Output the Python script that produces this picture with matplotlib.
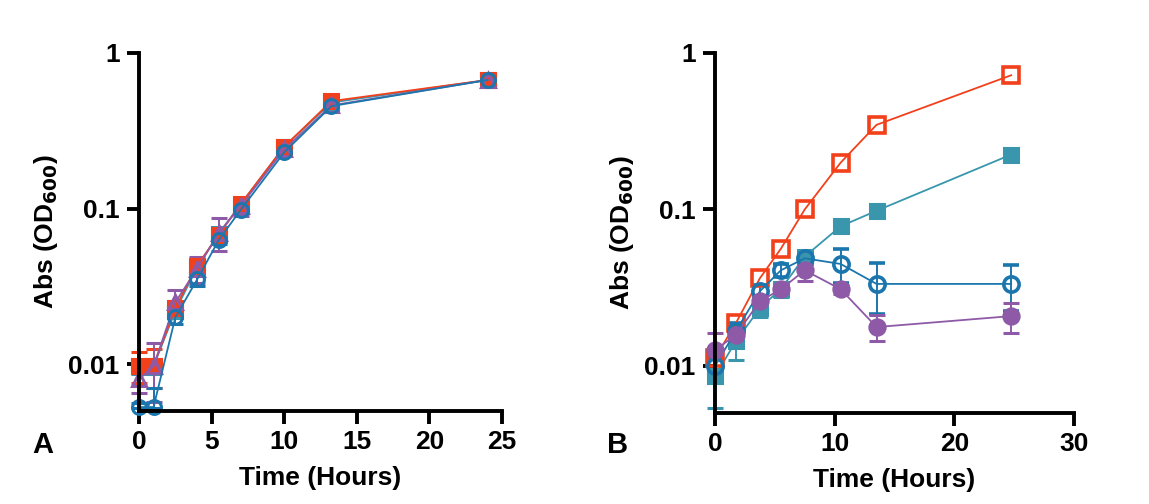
import matplotlib
matplotlib.use("Agg")
import matplotlib.pyplot as plt

plt.rcParams['font.family'] = ['Liberation Sans', 'DejaVu Sans']
plt.rcParams['font.weight'] = 'bold'
plt.rcParams['mathtext.default'] = 'bf'

# panel A data
time_a = [0, 1, 2.5, 4, 5.5, 7, 10, 13.25, 24]
red_a = [0.0098, 0.0098, 0.023, 0.043, 0.068, 0.107, 0.25, 0.49, 0.67]
red_a_err = [0.0022, 0.0028, 0.002, 0.004, 0.005, 0.006, 0.015, 0.03, 0.03]
teal_a = [0.0097, 0.0097, 0.022, 0.042, 0.069, 0.106, 0.25, 0.48, 0.67]
teal_a_err = [0.001, 0.001, 0.002, 0.003, 0.004, 0.005, 0.015, 0.03, 0.03]
purple_a = [0.008, 0.0097, 0.025, 0.041, 0.07, 0.104, 0.24, 0.46, 0.67]
purple_a_err = [0.0015, 0.004, 0.005, 0.008, 0.017, 0.014, 0.02, 0.04, 0.03]
blue_a = [0.0053, 0.0053, 0.020, 0.035, 0.063, 0.098, 0.23, 0.455, 0.67]
blue_a_err_lo = [0.0001, 0.0001, 0.002, 0.003, 0.004, 0.005, 0.012, 0.02, 0.02]
blue_a_err_hi = [0.0003, 0.0017, 0.002, 0.003, 0.004, 0.005, 0.012, 0.02, 0.02]

# panel B data
time_b = [0, 1.75, 3.75, 5.5, 7.5, 10.5, 13.5, 24.75]
red_b = [0.0112, 0.0188, 0.0363, 0.056, 0.1, 0.199, 0.347, 0.72]
teal_b = [0.0086, 0.0144, 0.0234, 0.031, 0.050, 0.078, 0.098, 0.224]
teal_b_err = [0.0032, 0.0035, 0.0029, 0.0035, 0.004, 0.003, 0.004, 0.01]
blue_b = [0.0100, 0.0167, 0.030, 0.0408, 0.0487, 0.0448, 0.0334, 0.0334]
blue_b_err = [0.0012, 0.002, 0.003, 0.004, 0.004, 0.011, 0.012, 0.011]
purple_b = [0.0126, 0.0158, 0.0259, 0.0309, 0.0408, 0.0309, 0.0177, 0.0208]
purple_b_err = [0.0037, 0.002, 0.002, 0.002, 0.006, 0.002, 0.0033, 0.0046]

red = '#f2401b'
teal = '#3996ad'
blue = '#1b76ad'
purple = '#8e5aa7'

fig = plt.figure(figsize=(11.49, 5.04), dpi=100)
ax_a = fig.add_axes([0.121, 0.1845, 0.316, 0.7105])
ax_b = fig.add_axes([0.6223, 0.1806, 0.3124, 0.7144])


def series(ax, x, y, err, color, marker, filled, ms=10, mew=2.2):
    ax.errorbar(x, y, yerr=err, color=color, marker=marker, ms=ms,
                mfc=color if filled else 'none', mec=color, mew=mew,
                lw=1.3, elinewidth=1.4, capsize=6, capthick=1.4, clip_on=False)


series(ax_a, time_a, teal_a, teal_a_err, teal, 's', True)
series(ax_a, time_a, red_a, red_a_err, red, 's', True)
series(ax_a, time_a, purple_a, purple_a_err, purple, '^', False)
series(ax_a, time_a, blue_a, [blue_a_err_lo, blue_a_err_hi], blue, 'o', False)

series(ax_b, time_b, teal_b, teal_b_err, teal, 's', True, ms=9.5)
series(ax_b, time_b, red_b, None, red, 's', False, ms=11, mew=2.6)
series(ax_b, time_b, blue_b, blue_b_err, blue, 'o', False, ms=11, mew=2.6)
series(ax_b, time_b, purple_b, purple_b_err, purple, 'o', True, ms=11)

for ax, xmax, xticks in [(ax_a, 25, [0, 5, 10, 15, 20, 25]), (ax_b, 30, [0, 10, 20, 30])]:
    ax.set_yscale('log')
    ax.set_ylim(0.005, 1)
    ax.set_xlim(0, xmax)
    ax.set_yticks([0.01, 0.1, 1])
    ax.set_yticklabels(['0.01', '0.1', '1'])
    ax.minorticks_off()
    ax.set_xticks(xticks)
    for s in ['top', 'right']:
        ax.spines[s].set_visible(False)
    for s in ['left', 'bottom']:
        ax.spines[s].set_linewidth(2.8)
    ax.tick_params(width=2.8, length=9, labelsize=19, pad=5)
    for lab in ax.get_xticklabels() + ax.get_yticklabels():
        lab.set_fontweight('bold')
    ax.set_xlabel('Time (Hours)', fontsize=19, fontweight='bold', labelpad=8)
    ax.set_ylabel(r'Abs (OD$_{600}$)', fontsize=19, fontweight='bold', labelpad=6)

fig.text(43 / 1149, 1 - 445 / 504, 'A', fontsize=21, fontweight='bold', ha='center', va='center')
fig.text(618 / 1149, 1 - 445 / 504, 'B', fontsize=21, fontweight='bold', ha='center', va='center')

fig.savefig('out.png', dpi=100, facecolor='white')
